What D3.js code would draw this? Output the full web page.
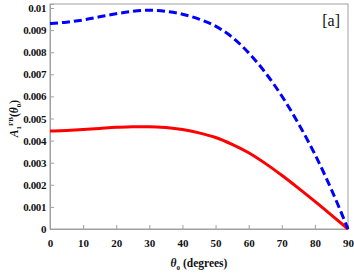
<!DOCTYPE html>
<html>
<head>
<meta charset="utf-8">
<script src="https://cdn.jsdelivr.net/npm/d3@7"></script>
<style>
  body { margin: 0; background: #fff; }
</style>
</head>
<body>
<div id="chart"></div>
<script>
// Data
const theta = [0, 5, 10, 15, 20, 25, 30, 35, 40, 45, 50, 55, 60, 65, 70, 75, 80, 85, 90];
const blueVals = [0.0093, 0.00936, 0.00946, 0.0096, 0.00974, 0.00985, 0.0099, 0.00985, 0.00972, 0.0095, 0.00918, 0.00868, 0.00797, 0.00708, 0.00602, 0.00478, 0.00338, 0.00178, 0];
const redVals = [0.00443, 0.00446, 0.0045, 0.00455, 0.0046, 0.00463, 0.00463, 0.00459, 0.0045, 0.00435, 0.00414, 0.00383, 0.00345, 0.00297, 0.00243, 0.00185, 0.00125, 0.00063, 0];
const xTicks = [0, 10, 20, 30, 40, 50, 60, 70, 80, 90];
const yTicks = [0, 0.001, 0.002, 0.003, 0.004, 0.005, 0.006, 0.007, 0.008, 0.009, 0.01];

const serif = "'Liberation Serif', 'Times New Roman', serif";

const W = 354, H = 273;
const margin = { top: 4, right: 6, bottom: 44, left: 50 };
const width = W - margin.left - margin.right;
const height = H - margin.top - margin.bottom;

const svg = d3.select("#chart").append("svg")
    .attr("width", W)
    .attr("height", H)
  .append("g")
    .attr("transform", "translate(" + margin.left + "," + margin.top + ")");

const x = d3.scaleLinear().domain([0, 90]).range([0, width]);
// top of frame sits a little above 0.01
const y = d3.scaleLinear().domain([0, 0.0101814]).range([height, 0]);

// frame
svg.append("rect")
    .attr("width", width)
    .attr("height", height)
    .attr("fill", "none")
    .attr("stroke", "#a0a0a0")
    .attr("stroke-width", 1);

const xAxis = svg.append("g")
    .attr("transform", "translate(0," + height + ")")
    .call(d3.axisBottom(x).tickValues(xTicks).tickSize(-4).tickPadding(10).tickFormat(d3.format("d")));
const yAxis = svg.append("g")
    .call(d3.axisLeft(y).tickValues(yTicks).tickSize(-4).tickPadding(4).tickFormat(d => d === 0 ? "0" : String(+d.toFixed(3))));

[xAxis, yAxis].forEach(a => {
  a.attr("font-family", serif).attr("font-size", 11).attr("font-weight", "bold");
  a.select(".domain").attr("stroke", "#a0a0a0");
  a.selectAll(".tick line").attr("stroke", "#a0a0a0");
  a.selectAll(".tick text").attr("fill", "#111");
});
yAxis.selectAll(".tick text").attr("letter-spacing", -0.4);

const line = d3.line()
    .x((d, i) => x(theta[i]))
    .y(d => y(d))
    .curve(d3.curveMonotoneX);

svg.append("path")
    .datum(redVals)
    .attr("fill", "none")
    .attr("stroke", "#ff0000")
    .attr("stroke-width", 3)
    .attr("d", line);

svg.append("path")
    .datum(blueVals)
    .attr("fill", "none")
    .attr("stroke", "#0000ff")
    .attr("stroke-width", 3)
    .attr("stroke-dasharray", "8,4")
    .attr("d", line);

// panel tag
svg.append("text")
    .attr("x", width - 8)
    .attr("y", 22)
    .attr("text-anchor", "end")
    .attr("font-family", serif)
    .attr("font-size", 16)
    .attr("fill", "#111")
    .text("[a]");

// x title
const xt = svg.append("text")
    .attr("x", width / 2)
    .attr("y", height + 38)
    .attr("text-anchor", "middle")
    .attr("font-family", serif)
    .attr("font-weight", "bold")
    .attr("font-size", 11.5)
    .attr("fill", "#111");
xt.append("tspan").attr("font-style", "italic").text("θ");
xt.append("tspan").attr("font-size", 7).attr("dy", 3).text("0");
xt.append("tspan").attr("dy", -3).text(" (degrees)");

// y title
const yt = svg.append("text")
    .attr("transform", "translate(" + (-32) + "," + (height / 2 + 2) + ") rotate(-90)")
    .attr("text-anchor", "middle")
    .attr("font-family", serif)
    .attr("font-weight", "bold")
    .attr("font-size", 11.5)
    .attr("fill", "#111");
yt.append("tspan").attr("font-style", "italic").text("A");
yt.append("tspan").attr("font-size", 7).attr("dy", 3).text("1");
yt.append("tspan").attr("font-size", 7).attr("dy", -8).text("FB");
yt.append("tspan").attr("dy", 5).text("(");
yt.append("tspan").attr("font-style", "italic").text("θ");
yt.append("tspan").attr("font-size", 7).attr("dy", 3).text("0");
yt.append("tspan").attr("dy", -3).text(")");
</script>
</body>
</html>
